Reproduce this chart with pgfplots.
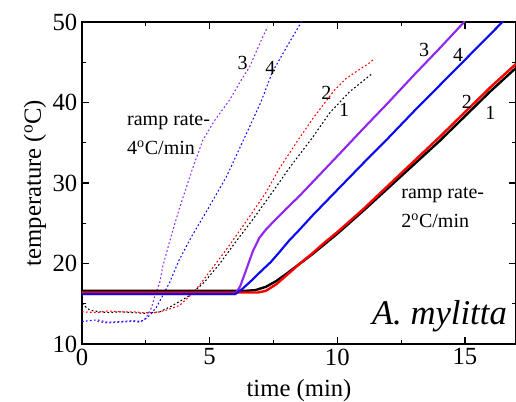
\documentclass[border=0pt]{standalone}
\usepackage{fontspec}
\setmainfont{Liberation Serif}
\usepackage{pgfplots}
\pgfplotsset{compat=1.18}

\definecolor{purp}{RGB}{145,40,240}
\definecolor{rd}{RGB}{250,0,0}
\definecolor{bl}{RGB}{10,10,245}

\begin{document}
\begin{tikzpicture}
\begin{axis}[
  name=ax,
  scale only axis,
  width=325.5pt, height=241.5pt,
  xmin=0, xmax=17, ymin=10, ymax=50,
  xtick={0,5,10,15}, ytick={10,20,30,40,50},
  minor x tick num=1, minor y tick num=1,
  tick align=inside,
  major tick length=5pt, minor tick length=3pt,
  axis line style={line width=1pt},
  every tick/.style={line width=0.9pt, black},
  /pgf/number format/assume math mode=true,
  tick label style={font=\fontsize{18.5}{20}\selectfont},
  label style={font=\fontsize{18.5}{20}\selectfont},
  xlabel={time (min)},
  ylabel={temperature (\textsuperscript{o}C)},
  xlabel style={yshift=-3.5pt},
  ylabel style={yshift=-2pt},
  every axis plot/.append style={line join=round},
]
% 4 C/min runs, dotted
\addplot[black, line width=0.8pt, dash pattern=on 1.3pt off 1.7pt] coordinates {
  (0,15.0) (0.3,14.2) (0.7,14.0) (1.0,13.9) (1.5,14.0) (2.0,13.9) (2.4,13.8)
  (3.05,14.0) (3.5,14.7) (3.83,15.3) (4.2,16.0) (4.8,17.7) (5.4,20.0) (6.0,22.6)
  (6.7,25.5) (7.4,28.6) (8.13,31.9) (9.04,35.7) (9.7,38.7) (10.47,41.3) (11.37,43.6)
};
\addplot[rd, line width=0.8pt, dash pattern=on 1.3pt off 1.7pt] coordinates {
  (0,14.0) (0.6,13.9) (1.0,14.1) (1.5,14.0) (2.0,14.0) (2.4,13.9) (2.9,13.9)
  (3.3,14.2) (3.83,14.8) (4.2,15.9) (4.6,17.3) (5.1,19.4) (5.6,21.5) (6.05,23.5)
  (6.6,26.0) (7.2,28.8) (7.73,31.8) (8.52,35.6) (9.04,38.0) (9.88,41.5) (10.35,43.0)
  (11.25,44.9) (11.4,45.3)
};
\addplot[purp, line width=0.8pt, dash pattern=on 1.3pt off 1.7pt] coordinates {
  (0.6,12.8) (1.0,12.6) (1.5,12.7) (2.0,12.8) (2.27,12.7) (2.5,13.2) (2.72,14.5)
  (2.85,15.9) (3.05,17.7) (3.16,19.6) (3.5,23.5) (3.83,27.0) (4.3,31.5) (4.73,35.3)
  (5.2,37.8) (5.78,40.3) (6.2,42.6) (6.56,44.4) (7.07,48.1) (7.27,49.4)
};
\addplot[bl, line width=0.8pt, dash pattern=on 1.3pt off 1.7pt] coordinates {
  (0,12.8) (0.6,13.0) (1.0,12.7) (1.5,12.8) (2.0,12.9) (2.3,12.8) (2.53,13.2)
  (2.72,13.8) (2.92,14.6) (3.11,15.7) (3.44,17.7) (3.8,20.4) (4.3,23.4) (4.9,26.6)
  (5.66,30.8) (6.45,36.2) (7.0,40.0) (7.46,43.8) (8.0,46.8) (8.63,50.2)
};
% 2 C/min runs, solid
\addplot[black, line width=1.8pt] coordinates {
  (0,16.6) (6.4,16.6) (6.8,16.7) (7.2,17.1) (7.6,17.8) (8.0,18.7) (8.5,19.9)
  (9.0,21.1) (9.5,22.4) (10,23.7) (11,26.5) (12,29.4) (13,32.3) (14,35.2)
  (15,38.3) (16,41.4) (17,44.3)
};
\addplot[rd, line width=1.8pt] coordinates {
  (0,16.4) (6.9,16.4) (7.2,16.6) (7.6,17.4) (8.0,18.5) (8.5,19.9) (9.0,21.2)
  (9.5,22.6) (10,23.9) (11,26.7) (12,29.7) (13,32.7) (14,35.7) (15,38.8)
  (16,41.9) (17,44.8)
};
\addplot[purp, line width=1.6pt] coordinates {
  (0,16.2) (6.0,16.2) (6.2,17.2) (6.43,19.2) (6.7,21.6) (6.95,23.2) (7.2,24.2)
  (7.5,25.2) (8.0,26.8) (8.52,28.4) (9,30.0) (10.08,33.6) (11,36.7) (12,40.0)
  (13,43.4) (14,46.7) (15,50.1)
};
\addplot[bl, line width=1.6pt] coordinates {
  (0,16.2) (6.0,16.2) (6.3,16.9) (6.68,18.0) (7.0,19.0) (7.4,20.2) (7.73,21.4)
  (8.1,22.8) (8.52,24.2) (9.04,26.0) (10.08,29.4) (11,32.4) (12,35.6) (13,38.9)
  (14,42.1) (15,45.3) (16,48.5) (16.5,50.1)
};
% annotations
\begin{scope}[every node/.style={font=\fontsize{15}{17}\selectfont, inner sep=0pt}]
\node at (axis cs:6.29,44.9) {3};
\node at (axis cs:7.38,44.3) {4};
\node at (axis cs:9.57,41.2) {2};
\node at (axis cs:10.27,39.1) {1};
\node at (axis cs:13.4,46.5) {3};
\node at (axis cs:14.73,45.9) {4};
\node at (axis cs:15.08,40.1) {2};
\node at (axis cs:16.0,38.7) {1};
\node[anchor=base west] at (axis cs:1.76,37.2) {ramp rate-};
\node[anchor=base west] at (axis cs:1.76,33.5) {4\textsuperscript{o}C/min};
\node[anchor=base west] at (axis cs:12.5,28.1) {ramp rate-};
\node[anchor=base west] at (axis cs:12.5,24.5) {2\textsuperscript{o}C/min};
\end{scope}
\node[anchor=base east, inner sep=0pt, font=\fontsize{26}{29}\selectfont\itshape] at (axis cs:16.65,12.4) {A. mylitta};
\end{axis}
\pgfresetboundingbox
\path ([shift={(-61.5pt,-43.5pt)}]ax.south west) rectangle ([shift={(0pt,16.5pt)}]ax.north east);
\end{tikzpicture}
\end{document}
